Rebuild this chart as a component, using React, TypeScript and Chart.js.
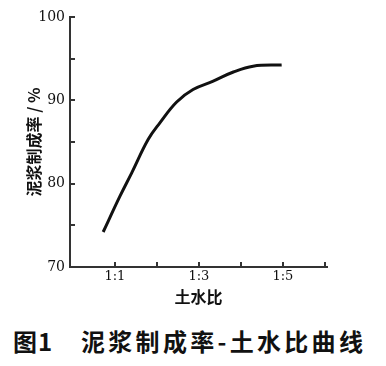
import React, { useEffect, useRef } from 'react';
import { Chart, registerables } from 'chart.js';

Chart.register(...registerables);

// Data (x = 1:n soil-water ratio, n)
const soilWaterRatio = [0.72, 1.12, 1.4, 1.79, 2.07, 2.47, 2.86, 3.34, 3.82, 4.29, 4.97];
const slurryRate = [74.2, 78.5, 81.3, 85.3, 87.3, 89.8, 91.3, 92.3, 93.4, 94.1, 94.25];

const xTickValues = [1, 2, 3, 4, 5, 6];
const xTickLabels: Record<number, string> = { 1: '1:1', 3: '1:3', 5: '1:5' };
const yTickValues = [70, 75, 80, 85, 90, 95, 100];
const yTickLabels: Record<number, string> = { 70: '70', 80: '80', 90: '90', 100: '100' };

const yTitle = '泥浆制成率 / %';
const xTitle = '土水比';
const captionNo = '图1';
const captionText = '泥浆制成率-土水比曲线';

const INK = '#111';
const AXIS = '#333';

const innerTicks = {
  id: 'innerTicks',
  afterDraw(chart: any) {
    const ctx = chart.ctx;
    const a = chart.chartArea;
    const sx = chart.scales.x;
    const sy = chart.scales.y;
    ctx.save();
    ctx.fillStyle = AXIS;
    ctx.fillRect(a.left - 1, a.top, 2, a.bottom - a.top + 1);
    ctx.fillRect(a.left - 1, a.bottom - 1, a.right - a.left + 1, 2);
    for (const v of yTickValues) {
      const y = Math.round(sy.getPixelForValue(v));
      ctx.fillRect(a.left, y - 1, 5, 2);
    }
    for (const v of xTickValues) {
      const x = Math.round(sx.getPixelForValue(v));
      ctx.fillRect(x - 1, a.bottom - 5, 2, 5);
    }
    ctx.restore();
  },
};

export default function App() {
  const canvasRef = useRef<HTMLCanvasElement>(null);

  useEffect(() => {
    if (!canvasRef.current) return;
    const chart = new Chart(canvasRef.current, {
      type: 'line',
      data: {
        datasets: [
          {
            data: soilWaterRatio.map((x, i) => ({ x, y: slurryRate[i] })),
            borderColor: INK,
            borderWidth: 3,
            pointRadius: 0,
            fill: false,
            tension: 0.4,
          },
        ],
      },
      options: {
        animation: false,
        responsive: true,
        maintainAspectRatio: false,
        layout: { padding: { left: 0, right: 59, top: 17, bottom: 6 } },
        plugins: {
          legend: { display: false },
          tooltip: { enabled: false },
        },
        scales: {
          x: {
            type: 'linear',
            min: -0.07,
            max: 6.05,
            afterFit: (s: any) => {
              s.height = 43;
            },
            afterBuildTicks: (s: any) => {
              s.ticks = xTickValues.map((v) => ({ value: v }));
            },
            grid: { display: true, drawOnChartArea: false, drawTicks: false, color: 'rgba(0,0,0,0)' },
            border: { display: true, color: AXIS, width: 2 },
            ticks: {
              autoSkip: false,
              maxRotation: 0,
              padding: 2,
              color: INK,
              font: { family: 'DejaVu Serif', size: 13 },
              callback: (v: any) => xTickLabels[v as number] ?? '',
            },
            title: {
              display: true,
              text: xTitle,
              color: INK,
              font: { family: 'Noto Sans CJK SC', size: 16, weight: 'bold' },
              padding: { top: 0, bottom: 3 },
            },
          },
          y: {
            type: 'linear',
            min: 70,
            max: 100,
            afterFit: (s: any) => {
              s.width = 70;
            },
            afterBuildTicks: (s: any) => {
              s.ticks = yTickValues.map((v) => ({ value: v }));
            },
            grid: { display: true, drawOnChartArea: false, drawTicks: false, color: 'rgba(0,0,0,0)' },
            border: { display: true, color: AXIS, width: 2 },
            ticks: {
              autoSkip: false,
              padding: 5,
              color: INK,
              font: { family: 'DejaVu Serif', size: 14 },
              callback: (v: any) => yTickLabels[v as number] ?? '',
            },
            title: {
              display: true,
              text: yTitle,
              color: INK,
              font: { family: 'Noto Sans CJK SC', size: 16, weight: 'bold' },
              padding: { top: 24, bottom: 0 },
            },
          },
        },
      } as any,
      plugins: [innerTicks],
    });
    return () => chart.destroy();
  }, []);

  return (
    <div style={{ position: 'fixed', left: 0, top: 0, width: 386, height: 366, background: '#fff' }}>
      <div style={{ position: 'absolute', left: 0, top: 0, width: 386, height: 316 }}>
        <canvas ref={canvasRef} />
      </div>
      <div
        style={{
          position: 'absolute',
          left: 13,
          top: 326,
          font: "bold 24px 'Noto Sans CJK SC'",
          color: INK,
          lineHeight: '30px',
          whiteSpace: 'pre',
          letterSpacing: '1px',
        }}
      >
        {captionNo}
      </div>
      <div
        style={{
          position: 'absolute',
          left: 81,
          top: 326,
          font: "bold 24px 'Noto Sans CJK SC'",
          color: INK,
          lineHeight: '30px',
          whiteSpace: 'pre',
          letterSpacing: '3.3px',
        }}
      >
        {captionText}
      </div>
    </div>
  );
}
